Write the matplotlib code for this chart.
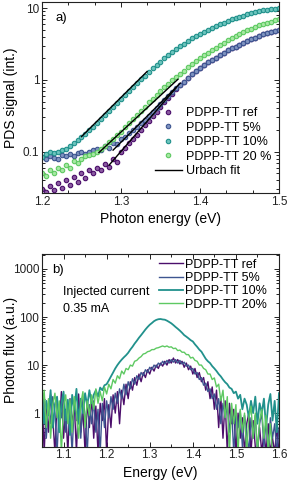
import numpy as np
import matplotlib
matplotlib.use("Agg")
import matplotlib.pyplot as plt
from matplotlib.ticker import AutoMinorLocator, FixedLocator, LogLocator, NullFormatter

plt.rcParams["font.family"] = ["Liberation Sans", "DejaVu Sans"]

# ---- panel a) PDS spectra ----
pds_energy = np.round(np.arange(1.200, 1.5001, 0.005), 3)

pds_ref = [0.030, 0.027, 0.033, 0.029, 0.036, 0.031, 0.040, 0.034, 0.045, 0.038,
           0.050, 0.043, 0.056, 0.050, 0.060, 0.055, 0.068, 0.062, 0.080, 0.072,
           0.098, 0.112, 0.130, 0.150, 0.172, 0.200, 0.232, 0.270, 0.312, 0.362,
           0.420, 0.485, 0.560, 0.645, 0.740, 0.840, 0.950, 1.07, 1.20, 1.32,
           1.46, 1.60, 1.75, 1.90, 2.05, 2.22, 2.40, 2.58, 2.75, 2.92,
           3.10, 3.30, 3.50, 3.70, 3.90, 4.10, 4.30, 4.45, 4.60, 4.75, 4.90]

pds_5 = [0.085, 0.078, 0.088, 0.082, 0.080, 0.090, 0.086, 0.092, 0.088, 0.095,
         0.100, 0.094, 0.100, 0.106, 0.110, 0.104, 0.118, 0.114, 0.130, 0.126,
         0.148, 0.160, 0.180, 0.198, 0.220, 0.248, 0.280, 0.318, 0.360, 0.405,
         0.460, 0.525, 0.600, 0.680, 0.760, 0.850, 0.950, 1.07, 1.20, 1.32,
         1.45, 1.60, 1.75, 1.90, 2.05, 2.22, 2.40, 2.58, 2.75, 2.92,
         3.10, 3.30, 3.50, 3.70, 3.90, 4.10, 4.30, 4.45, 4.60, 4.75, 4.90]

pds_10 = [0.085, 0.092, 0.100, 0.096, 0.100, 0.104, 0.110, 0.118, 0.130, 0.145,
          0.160, 0.176, 0.200, 0.220, 0.250, 0.282, 0.320, 0.368, 0.420, 0.482,
          0.550, 0.620, 0.700, 0.800, 0.900, 1.02, 1.15, 1.30, 1.45, 1.62,
          1.80, 2.00, 2.20, 2.45, 2.70, 2.95, 3.20, 3.50, 3.80, 4.10,
          4.40, 4.70, 5.00, 5.35, 5.70, 6.00, 6.30, 6.65, 7.00, 7.30,
          7.60, 7.90, 8.20, 8.50, 8.80, 9.05, 9.30, 9.50, 9.70, 9.85, 10.0]

pds_20 = [0.050, 0.046, 0.055, 0.050, 0.060, 0.056, 0.065, 0.060, 0.075, 0.070,
          0.080, 0.086, 0.090, 0.094, 0.100, 0.108, 0.120, 0.135, 0.150, 0.170,
          0.190, 0.218, 0.250, 0.285, 0.320, 0.370, 0.420, 0.485, 0.550, 0.620,
          0.700, 0.790, 0.880, 0.990, 1.10, 1.22, 1.35, 1.50, 1.65, 1.82,
          2.00, 2.20, 2.40, 2.60, 2.80, 3.05, 3.30, 3.55, 3.80, 4.05,
          4.30, 4.60, 4.90, 5.20, 5.50, 5.75, 6.00, 6.25, 6.50, 6.75, 7.00]

# Urbach fits: start/end energy and signal for each sample
fit_e0 = [1.285, 1.290, 1.250, 1.272]
fit_e1 = [1.370, 1.375, 1.333, 1.372]
fit_s0 = [0.065, 0.105, 0.162, 0.097]
fit_s1 = [0.780, 0.900, 1.310, 1.020]

# ---- panel b) electroluminescence ----
el_energy = np.round(np.arange(1.050, 1.6001, 0.005), 3)

el_ref = [3.0, 0.15, 1.5, 0.4, 2.4, 0.8, 0.15, 1.8, 0.5, 2.8,
          0.3, 1.2, 0.15, 2.0, 0.6, 1.5, 0.15, 2.5, 0.4, 1.2,
          0.15, 1.8, 0.5, 2.2, 0.3, 1.4, 0.15, 1.6, 0.7, 2.0,
          0.15, 1.5, 0.5, 2.4, 1.0, 2.8, 0.6, 3.0, 1.5, 4.0,
          2.0, 4.5, 3.0, 5.5, 3.8, 6.5, 4.5, 7.0, 5.5, 8.0,
          6.5, 9.0, 7.5, 10, 8.5, 11, 9.5, 12, 10, 13,
          11, 14, 11, 13, 10.5, 12, 9, 11, 8, 9.5,
          6.5, 8.5, 5.5, 7, 4.5, 5.5, 3.0, 4.5, 2.0, 3.5,
          1.2, 3.0, 0.5, 2.2, 0.3, 1.8, 0.15, 1.6, 0.6, 1.2,
          0.15, 1.0, 0.3, 0.8, 0.15, 0.6, 1.0, 0.15, 0.7, 0.2,
          0.15, 0.5, 0.15, 0.4, 0.15, 0.6, 0.15, 0.3, 0.15, 0.5, 0.15]

el_5 = [1.0, 2.5, 0.3, 1.6, 0.6, 2.2, 1.0, 0.15, 1.4, 0.8,
        2.0, 0.4, 1.5, 0.9, 0.15, 1.8, 0.7, 1.2, 0.3, 2.0,
        0.9, 0.15, 1.5, 0.6, 1.8, 0.4, 1.2, 0.15, 1.6, 0.5,
        1.8, 0.8, 2.2, 1.2, 2.6, 1.6, 3.2, 2.0, 4.0, 2.4,
        4.5, 3.2, 5.2, 4.0, 6.0, 5.0, 7.0, 6.0, 8.0, 7.0,
        9.0, 8.0, 10, 9.0, 11, 10, 12, 10.5, 12.5, 11,
        13, 11.5, 13, 11, 12.5, 10.5, 11.5, 9.5, 10, 8.0,
        8.5, 6.5, 7.0, 5.0, 5.5, 3.8, 4.2, 2.8, 3.2, 2.0,
        2.5, 1.2, 2.0, 0.6, 1.6, 0.8, 1.4, 0.4, 1.2, 0.15,
        1.0, 0.5, 1.1, 0.2, 0.9, 0.4, 0.15, 0.8, 0.3, 0.9,
        0.15, 0.6, 1.0, 0.2, 0.7, 0.15, 0.8, 0.3, 0.6, 0.15, 0.5]

el_10 = [2.5, 0.6, 1.8, 0.9, 3.0, 0.5, 1.5, 2.2, 0.4, 1.6,
         2.8, 0.7, 1.9, 0.35, 2.4, 1.2, 3.2, 0.6, 2.0, 1.0,
         2.6, 1.4, 3.0, 1.6, 2.4, 3.0, 2.2, 3.4, 3.0, 3.8,
         4.0, 4.8, 5.8, 7.0, 8.5, 10, 11.5, 13, 14.5, 16,
         18, 21, 24, 28, 32, 37, 42, 48, 55, 62,
         69, 75, 82, 87, 90, 91, 89, 88, 84, 79,
         74, 68, 62, 57, 52, 47, 42, 39, 36, 33,
         31, 27, 24, 21, 19, 16, 13.5, 12, 11, 9.5,
         8.5, 7.5, 6.5, 5.8, 5.0, 4.4, 4.0, 3.4, 3.2, 2.6,
         2.8, 2.0, 2.4, 1.2, 2.0, 1.5, 0.8, 1.8, 1.0, 2.2,
         0.6, 1.6, 1.0, 2.0, 0.5, 1.5, 2.5, 0.7, 1.8, 0.4, 2.6]

el_20 = [1.2, 3.0, 0.5, 2.0, 0.3, 1.5, 2.6, 0.8, 1.8, 0.15,
         1.4, 2.4, 0.6, 1.9, 0.4, 2.2, 1.0, 0.3, 1.6, 2.8,
         0.5, 1.8, 0.9, 2.4, 1.2, 3.2, 1.6, 2.8, 1.8, 3.5,
         2.5, 4.0, 3.2, 5.0, 4.2, 6.0, 5.2, 7.5, 6.5, 8.5,
         8.0, 10, 9.5, 12, 12.5, 14, 15, 17, 17.5, 19,
         19.5, 21, 21, 22.5, 23, 24, 25, 24, 25, 23.5,
         24, 22, 22.5, 20, 20.5, 18.5, 18.5, 16.5, 16.5, 14,
         14.5, 12.5, 12, 10, 10, 8.5, 8.0, 6.5, 6.5, 5.0,
         5.4, 3.5, 4.0, 1.8, 3.0, 0.8, 2.2, 0.15, 1.6, 0.6,
         1.5, 0.15, 1.2, 0.4, 1.0, 0.15, 0.8, 1.4, 0.3, 1.0,
         0.15, 0.7, 1.2, 0.3, 0.9, 0.15, 0.6, 0.15, 0.15, 0.15, 0.15]

labels_a = ["PDPP-TT ref", "PDPP-TT 5%", "PDPP-TT 10%", "PDPP-TT 20 %"]
labels_b = ["PDPP-TT ref", "PDPP-TT 5%", "PDPP-TT 10%", "PDPP-TT 20%"]
colors = ["#4b0e6b", "#3d5590", "#21918c", "#5ec962"]
face_colors = ["#8a5aa0", "#7f93c0", "#6cc4bd", "#a6e8a3"]


def style_axes(ax):
    ax.tick_params(which="both", direction="in", top=True, right=True,
                   labelsize=8.5, pad=2, width=0.7, colors="#222222")
    ax.tick_params(which="major", length=3.5)
    ax.tick_params(which="minor", length=2)
    for sp in ax.spines.values():
        sp.set_linewidth(0.8)
        sp.set_color("#222222")


fig = plt.figure(figsize=(2.89, 4.87), dpi=100)

# ---- a) ----
ax1 = fig.add_axes([0.1453, 0.6037, 0.8201, 0.3922])
pds_series = [pds_ref, pds_5, pds_10, pds_20]
for vals, col, fc, lab in zip(pds_series, colors, face_colors, labels_a):
    ax1.plot(pds_energy, vals, "o", ms=3.2, mfc=fc, mec=col, mew=0.8,
             label=lab, clip_on=True)
for k in range(len(fit_e0)):
    ax1.plot([fit_e0[k], fit_e1[k]], [fit_s0[k], fit_s1[k]], "-",
             color="black", lw=1.0, label="Urbach fit" if k == 0 else None)

ax1.set_yscale("log")
ax1.set_xlim(1.2, 1.5)
ax1.set_ylim(0.0265, 12.2)
ax1.set_xticks([1.2, 1.3, 1.4, 1.5])
ax1.set_xticklabels(["1.2", "1.3", "1.4", "1.5"])
ax1.xaxis.set_minor_locator(AutoMinorLocator(3))
ax1.yaxis.set_major_locator(FixedLocator([0.1, 1, 10]))
ax1.set_yticklabels(["0.1", "1", "10"])
ax1.yaxis.set_minor_locator(LogLocator(base=10, subs=np.arange(2, 10)))
ax1.yaxis.set_minor_formatter(NullFormatter())
style_axes(ax1)
ax1.set_xlabel("Photon energy (eV)", fontsize=10)
ax1.set_ylabel("PDS signal (int.)", fontsize=10)
ax1.yaxis.set_label_coords(-0.1, 0.5)
ax1.xaxis.set_label_coords(0.5, -0.097)
ax1.text(0.055, 0.915, "a)", transform=ax1.transAxes, fontsize=9.5,
         va="center", ha="left")

h, l = ax1.get_legend_handles_labels()
ax1.legend(h, l, loc="upper left", bbox_to_anchor=(0.475, 0.45),
           frameon=False, fontsize=9, handlelength=2.2, handletextpad=0.35,
           labelspacing=0.2, borderpad=0, borderaxespad=0, markerscale=1.0)

# ---- b) ----
ax2 = fig.add_axes([0.1453, 0.0828, 0.8201, 0.3956])
el_series = [el_ref, el_5, el_10, el_20]
widths = [1.0, 1.0, 1.3, 1.0]
for vals, col, lw, lab in zip(el_series, colors, widths, labels_b):
    ax2.plot(el_energy, vals, "-", color=col, lw=lw, label=lab)

ax2.set_yscale("log")
ax2.set_xlim(1.05, 1.6)
ax2.set_ylim(0.2, 2050)
ax2.set_xticks([1.1, 1.2, 1.3, 1.4, 1.5, 1.6])
ax2.set_xticklabels(["1.1", "1.2", "1.3", "1.4", "1.5", "1.6"])
ax2.xaxis.set_minor_locator(AutoMinorLocator(2))
ax2.yaxis.set_major_locator(FixedLocator([1, 10, 100, 1000]))
ax2.set_yticklabels(["1", "10", "100", "1000"])
ax2.yaxis.set_minor_locator(LogLocator(base=10, subs=np.arange(2, 10)))
ax2.yaxis.set_minor_formatter(NullFormatter())
style_axes(ax2)
ax2.set_xlabel("Energy (eV)", fontsize=10)
ax2.set_ylabel("Photon flux (a.u.)", fontsize=10)
ax2.yaxis.set_label_coords(-0.1, 0.5)
ax2.xaxis.set_label_coords(0.5, -0.1)
ax2.text(0.042, 0.915, "b)", transform=ax2.transAxes, fontsize=9.5,
         va="center", ha="left")
ax2.text(0.089, 0.805, "Injected current", transform=ax2.transAxes,
         fontsize=9, va="center", ha="left")
ax2.text(0.089, 0.715, "0.35 mA", transform=ax2.transAxes,
         fontsize=9, va="center", ha="left")
ax2.legend(loc="upper left", bbox_to_anchor=(0.495, 0.975),
           frameon=False, fontsize=9, handlelength=1.9,
           handletextpad=0.15, labelspacing=0.1, borderpad=0,
           borderaxespad=0)

fig.savefig("out.png", dpi=100)
